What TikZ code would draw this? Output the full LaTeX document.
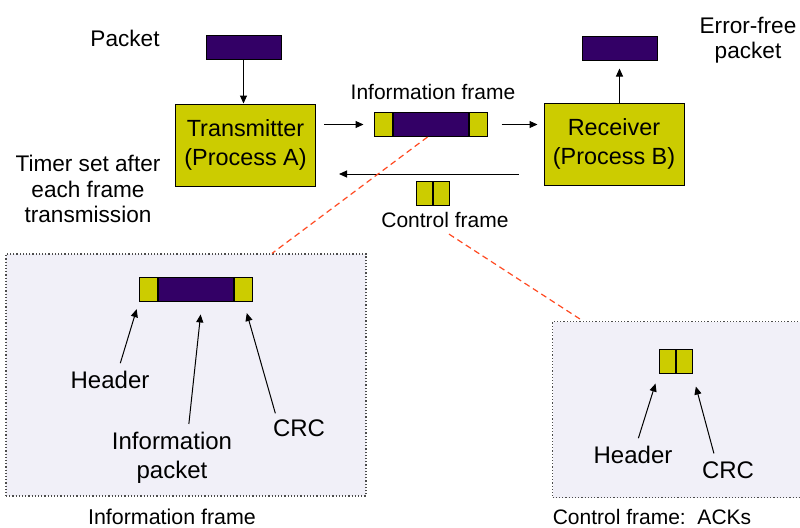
\documentclass[tikz,border=0pt]{standalone}
\usepackage{fontspec}
\setmainfont{Liberation Sans}
\usetikzlibrary{arrows.meta}
\definecolor{fryellow}{HTML}{CCCC00}
\definecolor{frpurple}{HTML}{330066}
\definecolor{insetbg}{RGB}{241,240,248}
\definecolor{zoomred}{HTML}{FF4A22}
\tikzset{
  part/.style={draw,line width=0.5pt,inner sep=0pt,minimum height=12pt},
  hcell/.style={part,fill=fryellow,minimum width=9pt},
  pcell/.style={part,fill=frpurple,minimum width=37.5pt},
  proc/.style={draw,line width=0.5pt,fill=fryellow,inner sep=0pt,minimum width=70pt,
    minimum height=41pt,align=center,font=\fontsize{11.7}{14.5}\selectfont},
  inset/.style={draw=black!70,densely dotted,line width=0.6pt,fill=insetbg,inner sep=0pt},
  lbl/.style={align=center,inner sep=0pt,font=\fontsize{11.3}{12.8}\selectfont},
  small/.style={align=center,inner sep=0pt,font=\fontsize{10.5}{13}\selectfont},
  big/.style={align=center,inner sep=0pt,font=\fontsize{12}{14.5}\selectfont},
  arr/.style={line width=0.5pt,-{Triangle[length=4pt,width=3.5pt]}},
  zoomline/.style={zoomred,densely dashed,line width=0.6pt}
}
\begin{document}
\begin{tikzpicture}[x=0.5pt,y=-0.5pt]
    \useasboundingbox (0,0) rectangle (800,527);
    % the two zoomed views
    \node[inset,minimum width=180pt,minimum height=121pt] (inB) at (186,375) {};
    \node[inset,minimum width=127pt,minimum height=88pt,anchor=north west] (inC) at (552,321) {};

    % link: processes and frames
    \node[pcell] (pkt) at (243.5,47.5) {};
    \node[pcell] (ok) at (619.5,48) {};
    \node[proc] (tx) at (245.5,145) {Transmitter\\(Process A)};
    \node[proc] (rx) at (614,144) {Receiver\\(Process B)};
    \node[hcell] (hdrA) at (383,124.5) {};
    \node[pcell,anchor=west] (payA) at (hdrA.east) {};
    \node[hcell,anchor=west] (crcA) at (payA.east) {};
    \node[hcell,minimum width=8pt] (hdrD) at (424,193) {};
    \node[hcell,minimum width=8pt,anchor=west] (crcD) at (hdrD.east) {};

    \node[lbl] (lpkt) at (125,38) {Packet};
    \node[lbl] (lok) at (748,40) {Error-free\\packet};
    \node[small] (linfo) at (433,92) {Information frame};
    \node[small] (lctrl) at (445,220) {Control frame};
    \node[lbl] (ltimer) at (88,189) {Timer set after\\each frame\\transmission};

    \draw[arr] (pkt.south) -- (pkt.south |- tx.north);
    \draw[arr,shorten <=4pt,shorten >=5pt] (tx.east |- hdrA.west) -- (hdrA.west);
    \draw[arr,shorten <=7pt,shorten >=3pt] (crcA.east) -- (rx.west |- crcA.east);
    \draw[arr,shorten >=4pt] (rx.north -| ok.south) -- (ok.south);
    \draw[arr,shorten <=12.5pt,shorten >=11.5pt] ([yshift=-15pt]rx.west) -- ([yshift=-14.5pt]tx.east);

    % information frame, close up
    \node[hcell] (hdrB) at (148.5,289) {};
    \node[pcell,anchor=west] (payB) at (hdrB.east) {};
    \node[hcell,anchor=west] (crcB) at (payB.east) {};
    \node[big] (hB) at (110,380) {Header};
    \node[big] (ipB) at (172,458) {Information\\packet};
    \node[big] (cB) at (299,428) {CRC};
    \draw[arr,shorten <=4pt,shorten >=4pt] ([xshift=4pt]hB.north) -- (hdrB.south west);
    \draw[arr,shorten <=4pt,shorten >=6.5pt] ([xshift=8pt]ipB.north) -- ([xshift=3pt]payB.south);
    \draw[arr,shorten <=3pt,shorten >=6pt] ([xshift=-11pt]cB.north) -- (crcB.south);
    \node[small,font=\fontsize{10.7}{13}\selectfont] (capB) at (172,517) {Information frame};

    % control frame, close up
    \node[hcell,minimum width=8pt] (hdrC) at (667,361.5) {};
    \node[hcell,minimum width=8pt,anchor=west] (crcC) at (hdrC.east) {};
    \node[big] (hC) at (633,455) {Header};
    \node[big] (cC) at (728,470) {CRC};
    \draw[arr,shorten <=4pt,shorten >=5pt] ([xshift=1.5pt]hC.north) -- (hdrC.south west);
    \draw[arr,shorten <=4pt,shorten >=6.5pt] ([xshift=-6pt]cC.north) -- (crcC.south east);
    \node[small] (capC) at (652,517) {Control frame:\ \ ACKs};

    \draw[zoomline] ([xshift=-1.5pt]payA.south) -- ([xshift=43pt]inB.north);
    \draw[zoomline] ([xshift=2pt,yshift=-3pt]lctrl.south) -- ([xshift=15.5pt]inC.north west);
\end{tikzpicture}
\end{document}
